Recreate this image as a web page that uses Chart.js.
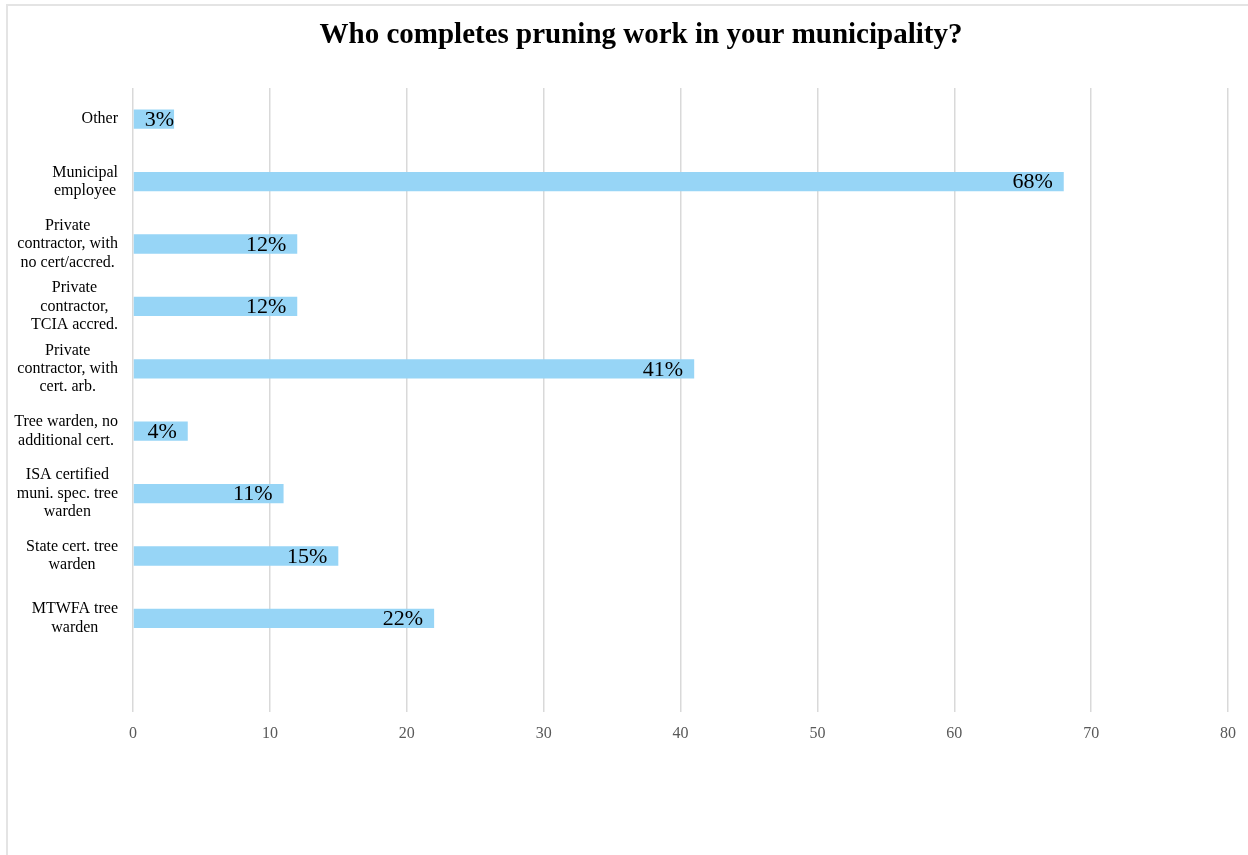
<!DOCTYPE html>
<html>
<head>
<meta charset="utf-8">
<script src="https://cdn.jsdelivr.net/npm/chart.js@4.4.1/dist/chart.umd.min.js"></script>
<style>
  html, body { margin: 0; padding: 0; background: #fff; overflow: hidden; }
  #frame { position: absolute; left: 6px; top: 4px; width: 1400px; height: 1000px; border: 2px solid #e4e4e4; }
  #myChart { position: absolute; left: 0; top: 0; }
</style>
</head>
<body>
<div id="frame"></div>
<canvas id="myChart" width="1248" height="855"></canvas>
<script>
const ctx = document.getElementById("myChart").getContext("2d");

const serif = '"Liberation Serif", "Times New Roman", serif';

const chartTitle = "Who completes pruning work in your municipality?";

const categories = [
    ["Other"],
    ["Municipal", "employee"],
    ["Private", "contractor, with", "no cert/accred."],
    ["Private", "contractor,", "TCIA accred."],
    ["Private", "contractor, with", "cert. arb."],
    ["Tree warden, no", "additional cert."],
    ["ISA certified", "muni. spec. tree", "warden"],
    ["State cert. tree", "warden"],
    ["MTWFA tree", "warden"],
];

const percents = [3, 68, 12, 12, 41, 4, 11, 15, 22];

const xTicks = [0, 10, 20, 30, 40, 50, 60, 70, 80];

// title is drawn by hand: it sits a bit off the plot centre in the original
const titleDraw = {
    id: "titleDraw",
    afterDraw(chart) {
        const c = chart.ctx;
        c.save();
        c.font = "bold 29px " + serif;
        c.fillStyle = "#000";
        c.textAlign = "center";
        c.textBaseline = "alphabetic";
        c.fillText(chartTitle, 641, 43);
        c.restore();
    }
};

// category labels: each block right aligned, its lines centred (Excel style)
const catLabels = {
    id: "catLabels",
    afterDraw(chart) {
        const c = chart.ctx;
        const yScale = chart.scales.y;
        const rightEdge = yScale.right - 15;
        const lineH = 18.4;
        c.save();
        c.font = "16px " + serif;
        c.fillStyle = "#000";
        c.textAlign = "center";
        c.textBaseline = "middle";
        categories.forEach((lines, i) => {
            const y = yScale.getPixelForValue(i);
            const widest = Math.max(...lines.map(l => c.measureText(l).width));
            const cx = rightEdge - widest / 2;
            const y0 = y - (lines.length - 1) * lineH / 2;
            lines.forEach((l, k) => c.fillText(l, cx, y0 + k * lineH));
        });
        c.restore();
    }
};

// percent labels drawn at the end of each bar
const barLabels = {
    id: "barLabels",
    afterDatasetsDraw(chart) {
        const c = chart.ctx;
        const meta = chart.getDatasetMeta(0);
        c.save();
        c.font = "22px " + serif;
        c.fillStyle = "#000";
        c.textBaseline = "middle";
        meta.data.forEach((bar, i) => {
            const v = percents[i];
            if (v == null) return;
            const txt = v + "%";
            const w = c.measureText(txt).width;
            let right = bar.x - 11;
            if (right - w < bar.base + 11) {
                c.textAlign = "left";
                c.fillText(txt, bar.base + 11, bar.y + 1);
            } else {
                c.textAlign = "right";
                c.fillText(txt, right, bar.y + 1);
            }
        });
        c.restore();
    }
};

const data = {
    labels: [...categories.map(l => l.join(" ")), ""],
    datasets: [
        {
            data: [...percents, null],
            backgroundColor: "rgb(151,213,246)",
            borderWidth: 0,
            barPercentage: 0.31,
            categoryPercentage: 1,
        },
    ],
};

const config = {
    type: "bar",
    data: data,
    plugins: [barLabels, catLabels, titleDraw],
    options: {
        indexAxis: "y",
        responsive: false,
        animation: false,
        layout: {
            padding: { left: 0, right: 20, top: 88, bottom: 0 }
        },
        plugins: {
            legend: { display: false },
            tooltip: { enabled: false },
            title: { display: false }
        },
        scales: {
            x: {
                min: 0,
                max: 80,
                afterBuildTicks: (scale) => {
                    scale.ticks = xTicks.map(v => ({ value: v }));
                },
                afterFit: (scale) => { scale.height = 143; },
                grid: { color: "#d9d9d9", lineWidth: 1.5, drawTicks: false },
                border: { display: false },
                ticks: {
                    color: "#595959",
                    padding: 12,
                    font: { family: serif, size: 16 }
                }
            },
            y: {
                afterFit: (scale) => { scale.width = 133; },
                grid: { display: false, drawTicks: false },
                border: { display: false },
                ticks: { display: false }
            }
        }
    }
};

const myChart = new Chart(ctx, config);
</script>
</body>
</html>
